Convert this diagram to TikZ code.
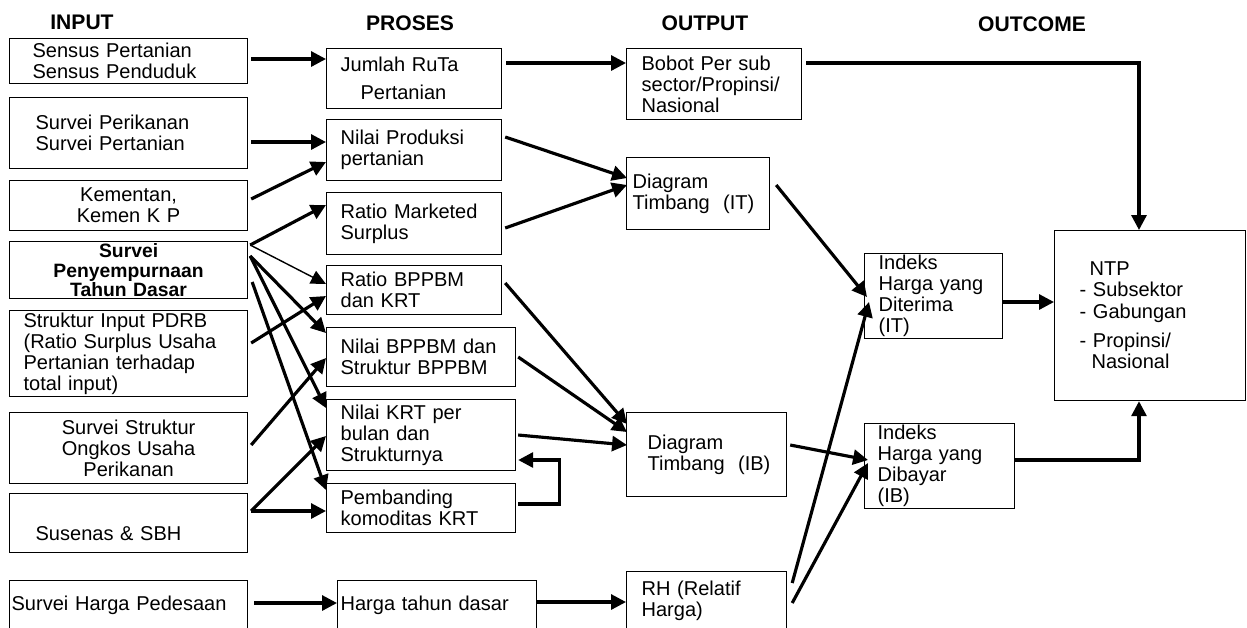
\documentclass[tikz,border=0pt]{standalone}
\usepackage{fontspec}
\setmainfont{Liberation Sans}
\usetikzlibrary{arrows.meta,calc}
\tikzset{
    kotak/.style={draw, line width=0.7pt, anchor=north west, inner ysep=0pt, align=left},
    judul/.style={font=\fontsize{12}{14}\selectfont\bfseries},
    panah/.style={line width=1.8pt, -{Triangle[length=8.5pt,width=8.5pt]}},
    panahtipis/.style={line width=0.8pt, -{Triangle[length=8.5pt,width=8pt]}}
}

\begin{document}
\begin{tikzpicture}[x=0.02cm, y=-0.02cm, font=\fontsize{11.4}{12}\selectfont]
                    \useasboundingbox (0,0) rectangle (1247,627);

                    \node[judul] (hinput) at (82,22) {INPUT};
                    \node[judul] (hproses) at (410,23) {PROSES};
                    \node[judul] (houtput) at (705,23) {OUTPUT};
                    \node[judul] (houtcome) at (1032,24) {OUTCOME};

                    \node[kotak, minimum height=0.9cm, text width=3.84cm, inner xsep=0.46cm] (sensus) at (9,38)
                    {Sensus Pertanian\\Sensus Penduduk};
                    \node[kotak, minimum height=1.42cm, text width=3.72cm, inner xsep=0.52cm] (perikanan) at (9,97)
                    {Survei Perikanan\\Survei Pertanian};
                    \node[kotak, align=center, minimum height=1.0cm, text width=4.6cm, inner xsep=0.08cm] (kementan) at (9,180)
                    {Kementan,\\Kemen K P};
                    \node[kotak, align=center, minimum height=1.14cm, text width=4.6cm, inner xsep=0.08cm,
                    font=\fontsize{11}{11}\selectfont\bfseries] (sptd) at (9,241)
                    {Survei\\Penyempurnaan\\Tahun Dasar};
                    \node[kotak, minimum height=1.72cm, text width=4.2cm, inner xsep=0.28cm] (struktur) at (9,310)
                    {Struktur~Input~PDRB\\(Ratio~Surplus~Usaha\\Pertanian~terhadap\\total input)};
                    \node[kotak, align=center, minimum height=1.42cm, text width=4.6cm, inner xsep=0.08cm] (ongkos) at (9,412)
                    {Survei Struktur\\Ongkos Usaha\\Perikanan};
                    \node[kotak, minimum height=1.18cm, text width=3.72cm, inner xsep=0.52cm] (susenas) at (9,493)
                    {\strut\\Susenas \& SBH};
                    \node[kotak, minimum height=0.98cm, text width=4.68cm, inner xsep=0.04cm] (hpedesaan) at (9,580)
                    {Survei~Harga~Pedesaan};

                    \node[kotak, minimum height=1.2cm, text width=2.94cm, inner xsep=0.28cm] (jumlah) at (326,48)
                    {Jumlah~RuTa\\[4pt]\hspace*{0.4cm}Pertanian};
                    \node[kotak, minimum height=1.22cm, text width=2.94cm, inner xsep=0.28cm] (produksi) at (326,119)
                    {Nilai~Produksi\\pertanian};
                    \node[kotak, minimum height=1.24cm, text width=2.94cm, inner xsep=0.28cm] (marketed) at (326,192)
                    {Ratio~Marketed\\Surplus};
                    \node[kotak, minimum height=0.98cm, text width=2.94cm, inner xsep=0.28cm] (rbppbm) at (326,265)
                    {Ratio~BPPBM\\dan KRT};
                    \node[kotak, minimum height=1.18cm, text width=3.22cm, inner xsep=0.28cm] (nbppbm) at (326,327)
                    {Nilai~BPPBM~dan\\Struktur~BPPBM};
                    \node[kotak, minimum height=1.42cm, text width=3.22cm, inner xsep=0.28cm] (nkrt) at (326,399)
                    {Nilai KRT per\\bulan dan\\Strukturnya};
                    \node[kotak, minimum height=0.98cm, text width=3.22cm, inner xsep=0.28cm] (pembanding) at (326,483)
                    {Pembanding\\komoditas~KRT};
                    \node[kotak, minimum height=0.98cm, text width=3.86cm, inner xsep=0.06cm] (hdasar) at (337,580)
                    {Harga~tahun~dasar};

                    \node[kotak, minimum height=1.42cm, text width=2.9cm, inner xsep=0.3cm] (bobot) at (626,48)
                    {Bobot~Per~sub\\sector/Propinsi/\\Nasional};
                    \node[kotak, minimum height=1.44cm, text width=2.62cm, inner xsep=0.12cm] (dit) at (626,157)
                    {Diagram\\Timbang~~(IT)};
                    \node[kotak, minimum height=1.68cm, text width=2.36cm, inner xsep=0.42cm] (dib) at (626,412)
                    {Diagram\\Timbang~~(IB)};
                    \node[kotak, minimum height=1.16cm, text width=2.6cm, inner xsep=0.3cm] (rh) at (626,571)
                    {RH~(Relatif\\Harga)};

                    \node[kotak, minimum height=1.7cm, text width=2.2cm, inner xsep=0.28cm] (iit) at (864,253)
                    {Indeks\\Harga~yang\\Diterima\\(IT)};
                    \node[kotak, minimum height=1.7cm, text width=2.48cm, inner xsep=0.26cm] (iib) at (864,423)
                    {Indeks\\Harga~yang\\Dibayar\\(IB)};
                    \node[kotak, minimum height=3.4cm, text width=2.82cm, inner xsep=0.5cm] (ntp) at (1054,230)
                    {\hspace*{0.2cm}NTP\\- Subsektor\\- Gabungan\\[5pt]- Propinsi/\\\hspace*{0.24cm}Nasional};

                    \draw[panah] ($(sensus.north east)+(3,21)$) -- ($(jumlah.north west)+(0,11)$);
                    \draw[panah] ($(perikanan.north east)+(3,45)$) -- ($(produksi.north west)+(0,23)$);
                    \draw[panah] ($(kementan.north east)+(3,19)$) -- ($(produksi.north west)+(0,43)$);
                    \draw[panah] ($(sptd.north east)+(2,4)$) -- ($(marketed.north west)+(0,13)$);
                    \draw[panahtipis] ($(sptd.north east)+(2,4)$) -- ($(rbppbm.north west)+(0,19)$);
                    \draw[panah] ($(sptd.north east)+(2,15)$) -- ($(nbppbm.north west)+(0,6)$);
                    \draw[panah] ($(sptd.north east)+(2,15)$) -- ($(nkrt.north west)+(0,9)$);
                    \draw[panah] ($(sptd.north east)+(4,41)$) -- ($(pembanding.north west)+(0,7)$);
                    \draw[panah] ($(struktur.north east)+(3,33)$) -- ($(rbppbm.north west)+(0,31)$);
                    \draw[panah] ($(ongkos.north east)+(3,33)$) -- ($(nbppbm.north west)+(0,31)$);
                    \draw[panah] ($(susenas.north east)+(3,18)$) -- ($(nkrt.north west)+(0,37)$);
                    \draw[panah] ($(susenas.north east)+(3,18)$) -- ($(pembanding.north west)+(0,28)$);
                    \draw[panah] ($(hpedesaan.north east)+(6,23)$) -- ($(hdasar.north west)+(0,23)$);

                    \draw[panah] ($(jumlah.north east)+(4,15)$) -- ($(bobot.north west)+(0,15)$);
                    \draw[panah] ($(produksi.north east)+(3,18)$) -- ($(dit.north west)+(1,21)$);
                    \draw[panah] ($(marketed.north east)+(3,36)$) -- ($(dit.north west)+(1,28)$);
                    \draw[panah] ($(rbppbm.north east)+(3,18)$) -- ($(dib.north west)+(1,12)$);
                    \draw[panah] ($(nbppbm.north east)+(2,30)$) -- ($(dib.north west)+(1,20)$);
                    \draw[panah] ($(nkrt.north east)+(2,36)$) -- ($(dib.north west)+(1,33)$);
                    \draw[panah] ($(pembanding.north east)+(2,21)$) -- ++(41,0) |- ($(nkrt.north east)+(2,61)$);
                    \draw[panah] ($(hdasar.north east)+(0,22)$) -- ($(rh.north west)+(0,31)$);

                    \draw[panah] ($(bobot.north east)+(4,15)$) -| ($(ntp.north west)+(85,0)$);
                    \draw[panah] ($(dit.north east)+(6,28)$) -- ($(iit.north west)+(3,44)$);
                    \draw[panah] ($(iit.north east)+(0,49)$) -- ($(ntp.north west)+(0,72)$);
                    \draw[panah] ($(dib.north east)+(3,33)$) -- ($(iib.north west)+(4,37)$);
                    \draw[panah] ($(iib.north east)+(0,37)$) -| ($(ntp.south west)+(85,0)$);
                    \draw[panah] ($(rh.north east)+(5,12)$) -- ($(iit.north west)+(5,49)$);
                    \draw[panah] ($(rh.north east)+(5,32)$) -- ($(iib.north west)+(4,40)$);
                \end{tikzpicture}
\end{document}
